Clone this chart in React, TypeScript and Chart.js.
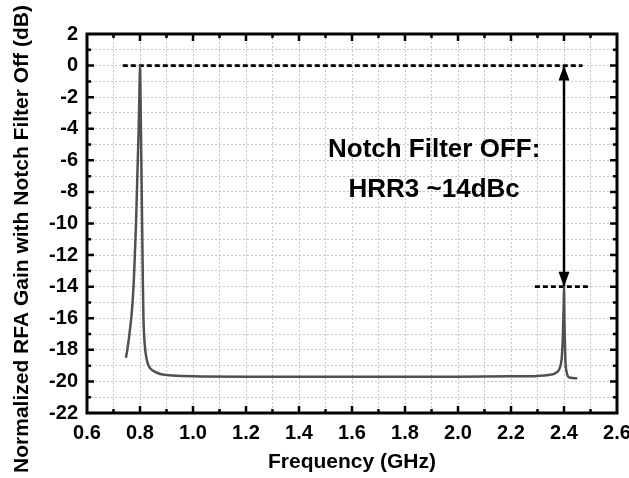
import React, { useEffect, useRef } from 'react';
import { Chart, registerables } from 'chart.js';

Chart.register(...registerables);

// Measured RFA gain curve (notch filter off)
const freqGHz = [
  0.747, 0.752, 0.758, 0.763, 0.767, 0.772, 0.777, 0.781, 0.785, 0.79, 0.795, 0.798, 0.8,
  0.802, 0.805, 0.808, 0.811, 0.813, 0.817, 0.823, 0.83, 0.84, 0.857, 0.88, 0.92, 1.0,
  1.2, 1.4, 1.6, 1.8, 2.0, 2.2, 2.3, 2.34, 2.37, 2.385, 2.392, 2.396, 2.399, 2.4,
  2.402, 2.405, 2.41, 2.42, 2.45,
];
const gainDb = [
  -18.5, -18.0, -17.3, -16.6, -16.0, -15.0, -13.5, -11.8, -10.0, -7.0, -4.0, -1.5, 0,
  -2.0, -6.0, -10.0, -14.0, -16.0, -17.5, -18.4, -18.9, -19.2, -19.4, -19.55, -19.62, -19.68,
  -19.7, -19.7, -19.7, -19.7, -19.7, -19.68, -19.65, -19.6, -19.45, -19.1, -18.4, -17.0, -15.0, -14.0,
  -16.5, -18.6, -19.4, -19.75, -19.8,
];

// Reference lines and arrow
const refTopX = [0.735, 2.47];
const refTopY = [0, 0];
const refHrrX = [2.29, 2.5];
const refHrrY = [-14, -14];
const arrowX = [2.4, 2.4];
const arrowY = [0, -14];

// Axes
const xMin = 0.6;
const xMax = 2.6;
const xStep = 0.1;
const yMin = -22;
const yMax = 2;
const yStep = 1;
const xTitle = 'Frequency (GHz)';
const yTitle = 'Normalized RFA Gain with Notch Filter Off (dB)';

// Annotation
const noteLines = ['Notch Filter OFF:', 'HRR3 ~14dBc'];
const noteX = 1.91;
const noteY = [-5.76, -8.3];

const FONT = '"Liberation Sans", Arial, Helvetica, sans-serif';

const pts = (xs: number[], ys: number[]) => xs.map((x, i) => ({ x, y: ys[i] }));

const framePlugin = {
  id: 'frameTicks',
  afterDatasetsDraw(chart: any) {
    const { ctx, chartArea: a, scales } = chart;
    const xs = scales.x;
    const ys = scales.y;
    ctx.save();
    // arrow heads
    const ax = xs.getPixelForValue(arrowX[0]);
    const yTop = ys.getPixelForValue(arrowY[0]);
    const yBot = ys.getPixelForValue(arrowY[1]);
    ctx.fillStyle = '#000';
    ctx.beginPath();
    ctx.moveTo(ax, yTop);
    ctx.lineTo(ax - 5.5, yTop + 15);
    ctx.lineTo(ax + 5.5, yTop + 15);
    ctx.closePath();
    ctx.fill();
    ctx.beginPath();
    ctx.moveTo(ax, yBot);
    ctx.lineTo(ax - 5.5, yBot - 15);
    ctx.lineTo(ax + 5.5, yBot - 15);
    ctx.closePath();
    ctx.fill();

    // annotation text
    ctx.font = `bold 26px ${FONT}`;
    ctx.textAlign = 'center';
    ctx.textBaseline = 'alphabetic';
    noteLines.forEach((t, i) => {
      ctx.fillText(t, xs.getPixelForValue(noteX), ys.getPixelForValue(noteY[i]));
    });

    // frame
    ctx.strokeStyle = '#000';
    ctx.lineWidth = 3;
    ctx.strokeRect(a.left, a.top, a.right - a.left, a.bottom - a.top);
    // ticks
    ctx.lineWidth = 2.5;
    ctx.beginPath();
    const nx = Math.round((xMax - xMin) / xStep);
    for (let i = 1; i < nx; i++) {
      const v = xMin + i * xStep;
      const px = xs.getPixelForValue(v);
      const len = i % 2 === 0 ? 7 : 4;
      ctx.moveTo(px, a.bottom);
      ctx.lineTo(px, a.bottom - len);
      ctx.moveTo(px, a.top);
      ctx.lineTo(px, a.top + len);
    }
    const ny = Math.round((yMax - yMin) / yStep);
    for (let i = 1; i < ny; i++) {
      const v = yMin + i * yStep;
      const py = ys.getPixelForValue(v);
      const len = i % 2 === 0 ? 7 : 4;
      ctx.moveTo(a.left, py);
      ctx.lineTo(a.left + len, py);
      ctx.moveTo(a.right, py);
      ctx.lineTo(a.right - len, py);
    }
    ctx.stroke();

    // axis titles
    ctx.fillStyle = '#000';
    ctx.textAlign = 'center';
    ctx.textBaseline = 'alphabetic';
    ctx.font = `bold 21px ${FONT}`;
    ctx.fillText(xTitle, (a.left + a.right) / 2, 468);
    ctx.save();
    ctx.translate(28, 239);
    ctx.rotate(-Math.PI / 2);
    ctx.fillText(yTitle, 0, 0);
    ctx.restore();
    ctx.restore();
  },
};

export default function App() {
  const ref = useRef<HTMLCanvasElement | null>(null);
  useEffect(() => {
    if (!ref.current) return;
    const chart = new Chart(ref.current, {
      type: 'line',
      data: {
        datasets: [
          {
            data: pts(freqGHz, gainDb),
            borderColor: '#505050',
            borderWidth: 2.5,
            pointRadius: 0,
            cubicInterpolationMode: 'monotone',
          },
          {
            data: pts(refTopX, refTopY),
            borderColor: '#000',
            borderWidth: 2.8,
            borderDash: [5, 3],
            pointRadius: 0,
          },
          {
            data: pts(refHrrX, refHrrY),
            borderColor: '#000',
            borderWidth: 2.8,
            borderDash: [5, 3],
            pointRadius: 0,
          },
          {
            data: pts(arrowX, arrowY),
            borderColor: '#000',
            borderWidth: 2.5,
            pointRadius: 0,
          },
        ],
      },
      options: {
        responsive: false,
        animation: false,
        events: [],
        layout: { padding: { left: 0, top: 34, right: 12, bottom: 0 } },
        plugins: { legend: { display: false }, tooltip: { enabled: false } },
        scales: {
          x: {
            type: 'linear',
            min: xMin,
            max: xMax,
            afterFit: (s: any) => {
              s.height = 65;
              s.paddingLeft = 0;
              s.paddingRight = 0;
            },
            ticks: {
              stepSize: xStep,
              autoSkip: false,
              maxRotation: 0,
              padding: 8,
              color: '#000',
              font: { family: FONT, size: 20, weight: 'bold' },
              callback: (v: any) => {
                const n = Math.round(Number(v) * 10);
                return n % 2 === 0 ? (n / 10).toFixed(1) : '';
              },
            },
            grid: { color: '#c4c4c4', lineWidth: 1, drawTicks: false },
            border: { display: false, dash: [2, 2] },
          },
          y: {
            type: 'linear',
            min: yMin,
            max: yMax,
            afterFit: (s: any) => {
              s.width = 87;
              s.paddingTop = 0;
              s.paddingBottom = 0;
            },
            ticks: {
              stepSize: yStep,
              autoSkip: false,
              padding: 9,
              color: '#000',
              font: { family: FONT, size: 20, weight: 'bold' },
              callback: (v: any) => {
                const n = Math.round(Number(v));
                return n % 2 === 0 ? String(n) : '';
              },
            },
            grid: { color: '#c4c4c4', lineWidth: 1, drawTicks: false },
            border: { display: false, dash: [2, 2] },
          },
        },
      },
      plugins: [framePlugin],
    } as any);
    return () => chart.destroy();
  }, []);
  return (
    <div style={{ position: 'absolute', left: 0, top: 0, width: 629, height: 478, background: '#fff' }}>
      <canvas ref={ref} width={629} height={478} style={{ width: 629, height: 478 }} />
    </div>
  );
}
